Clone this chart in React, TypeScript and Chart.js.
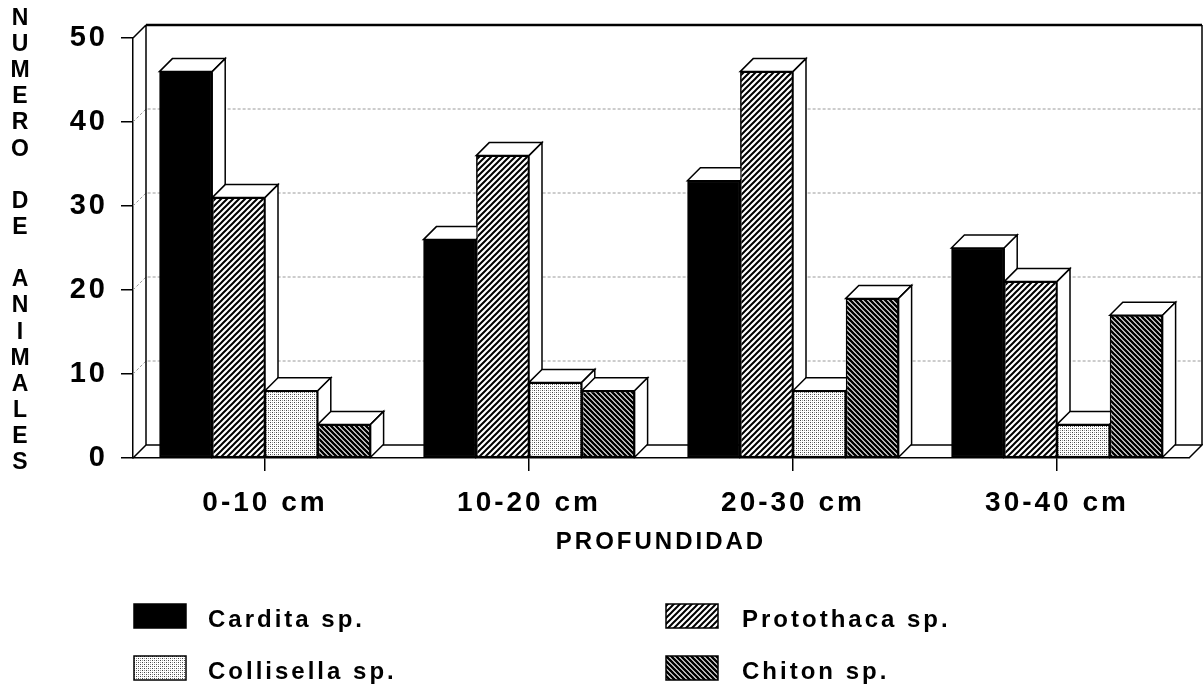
import React, { useEffect, useRef } from 'react';
import { Chart, registerables } from 'chart.js';

Chart.register(...registerables);

// ---------------- data ----------------
const categories = ['0-10 cm', '10-20 cm', '20-30 cm', '30-40 cm'];
const seriesNames = ['Cardita sp.', 'Protothaca sp.', 'Collisella sp.', 'Chiton sp.'];
const cardita = [46, 26, 33, 25];
const protothaca = [31, 36, 46, 21];
const collisella = [8, 9, 8, 4];
const chiton = [4, 8, 19, 17];
const yMin = 0;
const yMax = 50;
const yStep = 10;
const yTitle = 'NUMERO DE ANIMALES';
const xTitle = 'PROFUNDIDAD';

// ---------------- styling ----------------
const FONT = '"Liberation Sans", Arial, Helvetica, sans-serif';
const DEPTH = 13;

function makeTile(kind: string): HTMLCanvasElement {
  const c = document.createElement('canvas');
  let s = 6;
  if (kind === 'back') s = 5;
  if (kind === 'dots') s = 4;
  c.width = s;
  c.height = s;
  const g = c.getContext('2d')!;
  g.fillStyle = '#fff';
  g.fillRect(0, 0, s, s);
  if (kind === 'fwd') {
    g.strokeStyle = '#000';
    g.lineWidth = 2;
    g.beginPath();
    g.moveTo(-1, s + 1); g.lineTo(s + 1, -1);
    g.moveTo(-1, 1); g.lineTo(1, -1);
    g.moveTo(s - 1, s + 1); g.lineTo(s + 1, s - 1);
    g.stroke();
  } else if (kind === 'back') {
    g.strokeStyle = '#000';
    g.lineWidth = 2.6;
    g.beginPath();
    g.moveTo(-1, -1); g.lineTo(s + 1, s + 1);
    g.moveTo(s - 1, -1); g.lineTo(s + 1, 1);
    g.moveTo(-1, s - 1); g.lineTo(1, s + 1);
    g.stroke();
  } else if (kind === 'dots') {
    g.fillStyle = '#444';
    g.fillRect(0, 0, 1, 1);
    g.fillRect(2, 2, 1, 1);
    g.fillStyle = '#999';
    g.fillRect(2, 0, 1, 1);
    g.fillRect(0, 2, 1, 1);
  }
  return c;
}

const threeD = {
  id: 'threeD',
  beforeUpdate(chart: any) {
    chart.ctx.letterSpacing = '3px';
  },
  beforeDraw(chart: any) {
    const ctx = chart.ctx;
    ctx.save();
    ctx.fillStyle = '#fff';
    ctx.fillRect(0, 0, chart.width, chart.height);
    ctx.restore();
    ctx.letterSpacing = '3px';
  },
  beforeDatasetsDraw(chart: any) {
    const ctx = chart.ctx;
    const { left: L, right: R, top: T, bottom: B } = chart.chartArea;
    const ys = chart.scales.y;
    const D = DEPTH;
    ctx.save();
    // dotted grid lines on the back wall
    ctx.strokeStyle = '#9a9a9a';
    ctx.lineWidth = 1;
    ctx.setLineDash([3, 2]);
    for (const t of ys.ticks) {
      if (t.value <= yMin || t.value >= yMax) continue;
      const py = ys.getPixelForValue(t.value);
      ctx.beginPath();
      ctx.moveTo(L, py);
      ctx.lineTo(L + D, py - D);
      ctx.lineTo(R + D, py - D);
      ctx.stroke();
    }
    ctx.setLineDash([]);
    ctx.strokeStyle = '#000';
    ctx.lineWidth = 1.5;
    ctx.beginPath();
    ctx.moveTo(L, T); ctx.lineTo(L + D, T - D);
    ctx.moveTo(L + D, T - D); ctx.lineTo(L + D, B - D);
    ctx.moveTo(L, B); ctx.lineTo(L + D, B - D);
    ctx.lineTo(R + D, B - D);
    ctx.lineTo(R, B);
    ctx.moveTo(R + D, B - D); ctx.lineTo(R + D, T - D);
    ctx.stroke();
    ctx.lineWidth = 2.5;
    ctx.beginPath();
    ctx.moveTo(L + D, T - D); ctx.lineTo(R + D, T - D);
    ctx.stroke();
    ctx.restore();
  },
  afterDatasetsDraw(chart: any) {
    const ctx = chart.ctx;
    const D = DEPTH;
    const metas = chart.data.datasets.map((_: any, i: number) => chart.getDatasetMeta(i));
    for (let j = 0; j < chart.data.labels.length; j++) {
      for (const meta of metas) {
        const el = meta.data[j];
        if (!el) continue;
        const p = el.getProps(['x', 'y', 'base', 'width'], true);
        el.draw(ctx);
        const l = p.x - p.width / 2;
        const r = p.x + p.width / 2;
        const top = p.y;
        const base = p.base;
        ctx.save();
        ctx.fillStyle = '#fff';
        ctx.strokeStyle = '#000';
        ctx.lineWidth = 1.5;
        ctx.lineJoin = 'miter';
        ctx.beginPath();
        ctx.moveTo(l, top); ctx.lineTo(l + D, top - D); ctx.lineTo(r + D, top - D); ctx.lineTo(r, top);
        ctx.closePath();
        ctx.fill(); ctx.stroke();
        ctx.beginPath();
        ctx.moveTo(r, top); ctx.lineTo(r + D, top - D); ctx.lineTo(r + D, base - D); ctx.lineTo(r, base);
        ctx.closePath();
        ctx.fill(); ctx.stroke();
        ctx.restore();
      }
    }
  },
  afterDraw(chart: any) {
    const ctx = chart.ctx;
    ctx.save();
    // vertical stacked y-axis title
    ctx.fillStyle = '#000';
    ctx.font = `bold 23px ${FONT}`;
    ctx.letterSpacing = '0px';
    ctx.textAlign = 'center';
    ctx.textBaseline = 'middle';
    const letters = Array.from(yTitle);
    letters.forEach((ch, k) => {
      if (ch !== ' ') ctx.fillText(ch, 20, 18.5 + k * 26.15);
    });
    // legend
    const ds = chart.data.datasets;
    const pos = [
      { bx: 134, by: 604, tx: 208, ty: 620 },
      { bx: 666, by: 604, tx: 742, ty: 620 },
      { bx: 134, by: 656, tx: 208, ty: 672 },
      { bx: 666, by: 656, tx: 742, ty: 672 },
    ];
    ds.forEach((d: any, i: number) => {
      const q = pos[i];
      ctx.fillStyle = d.backgroundColor;
      ctx.fillRect(q.bx, q.by, 52, 24);
      ctx.strokeStyle = '#000';
      ctx.lineWidth = 1.5;
      ctx.strokeRect(q.bx, q.by, 52, 24);
      ctx.fillStyle = '#000';
      ctx.font = `bold 24px ${FONT}`;
      ctx.letterSpacing = '3px';
      ctx.textAlign = 'left';
      ctx.textBaseline = 'middle';
      ctx.fillText(d.label, q.tx, q.ty);
    });
    ctx.restore();
  },
};

export default function App() {
  const ref = useRef<HTMLCanvasElement>(null);
  useEffect(() => {
    const canvas = ref.current!;
    const c2d = canvas.getContext('2d')!;
    const fills: any[] = [
      '#000',
      c2d.createPattern(makeTile('fwd'), 'repeat'),
      c2d.createPattern(makeTile('dots'), 'repeat'),
      c2d.createPattern(makeTile('back'), 'repeat'),
    ];
    const values = [cardita, protothaca, collisella, chiton];
    const chart = new Chart(canvas, {
      type: 'bar',
      data: {
        labels: categories,
        datasets: values.map((v, i) => ({
          label: seriesNames[i],
          data: v,
          backgroundColor: fills[i],
          borderColor: '#000',
          borderWidth: 1.5,
          borderSkipped: false,
          categoryPercentage: 0.8,
          barPercentage: 1.0,
        })),
      },
      options: {
        responsive: false,
        animation: false,
        devicePixelRatio: 1,
        events: [],
        layout: { padding: { left: 0, top: 38, right: 14, bottom: 107 } },
        plugins: {
          legend: { display: false },
          tooltip: { enabled: false },
          title: { display: false },
        },
        scales: {
          x: {
            grid: { offset: false, drawOnChartArea: false, drawTicks: true, tickLength: 13, color: '#000', lineWidth: 1.5 },
            border: { display: true, color: '#000', width: 1.5 },
            ticks: { font: { family: FONT, size: 28, weight: 'bold' }, color: '#000', padding: 15, maxRotation: 0, autoSkip: false },
            title: { display: true, text: xTitle, font: { family: FONT, size: 24, weight: 'bold' }, color: '#000', padding: { top: 0, bottom: 23 } },
            afterFit: (s: any) => { s.height = 122; },
          },
          y: {
            min: yMin,
            max: yMax,
            ticks: { stepSize: yStep, font: { family: FONT, size: 29, weight: 'bold' }, color: '#000', padding: 13 },
            grid: { drawOnChartArea: false, drawTicks: true, tickLength: 12, color: '#000', lineWidth: 1.5 },
            border: { display: true, color: '#000', width: 1.5 },
            afterFit: (s: any) => { s.width = 133; },
          },
        },
      } as any,
      plugins: [threeD as any],
    });
    return () => chart.destroy();
  }, []);
  return (
    <div style={{ position: 'fixed', left: 0, top: 0, width: 1203, height: 687, background: '#fff' }}>
      <canvas ref={ref} width={1203} height={687} style={{ display: 'block' }} />
    </div>
  );
}
